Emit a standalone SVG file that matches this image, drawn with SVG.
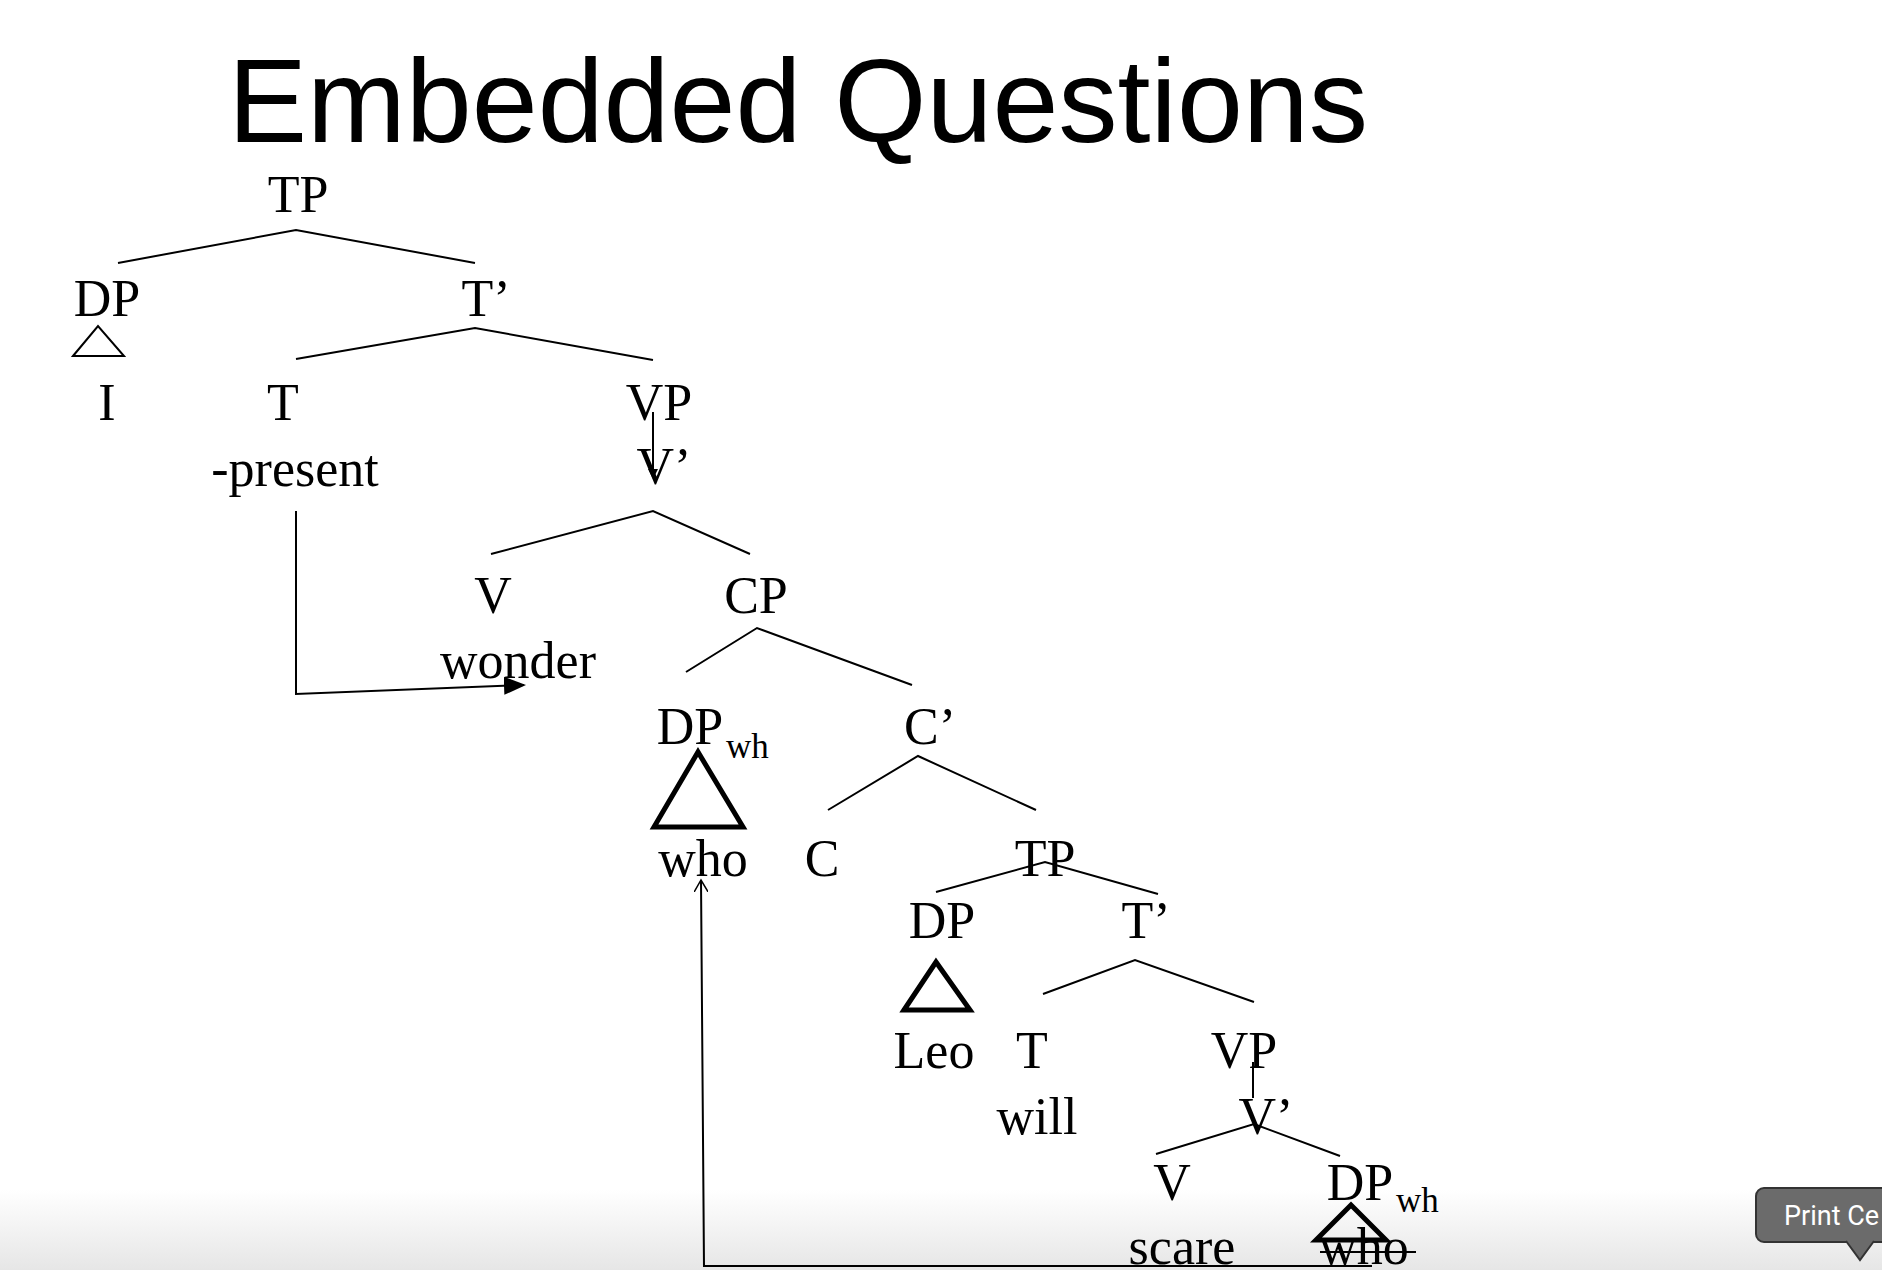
<svg xmlns="http://www.w3.org/2000/svg" width="1882" height="1270" viewBox="0 0 1882 1270">
<style>
.t{font-family:"Liberation Serif","Times New Roman",serif;font-size:52px;fill:#000;text-anchor:middle}
.s{font-family:"Liberation Serif","Times New Roman",serif;font-size:35px;fill:#000}
.l{stroke:#000;stroke-width:2;fill:none}
.k{stroke:#000;stroke-width:5;fill:none;stroke-linejoin:miter}
</style>
<defs>
<marker id="ah" markerWidth="10" markerHeight="10" refX="9" refY="5" orient="auto" markerUnits="userSpaceOnUse"><path d="M0,0 L10,5 L0,10 z" fill="#000"/></marker>
<marker id="oa" markerWidth="14" markerHeight="14" refX="12" refY="7" orient="auto" markerUnits="userSpaceOnUse"><path d="M0,0 L12,7 L0,14" fill="none" stroke="#000" stroke-width="1.5"/></marker>
<marker id="ha" markerWidth="22" markerHeight="18" refX="20" refY="9" orient="auto" markerUnits="userSpaceOnUse"><path d="M0,0 L22,9 L0,18 z" fill="#000"/></marker>
<linearGradient id="bg" x1="0" y1="0" x2="0" y2="1"><stop offset="0" stop-color="#fff"/><stop offset="1" stop-color="#e6e6e6"/></linearGradient>
</defs>
<rect width="1882" height="1270" fill="#fff"/>
<rect y="1190" width="1882" height="80" fill="url(#bg)"/>
<text x="228" y="142" font-family="Liberation Sans, Arial, sans-serif" font-size="118" textLength="1140" lengthAdjust="spacingAndGlyphs">Embedded Questions</text>

<g id="connectors">
<polyline class="l" points="118,263 296,230 475,263"/>
<polyline class="l" points="296,359 475,328 653,360"/>
<line class="l" x1="653" y1="412" x2="653" y2="478" marker-end="url(#ah)" stroke-width="1.5"/>
<polyline class="l" points="491,554 653,511 750,554"/>
<polyline class="l" points="686,672 757,628 912,685"/>
<polyline class="l" points="828,810 918,756 1036,810"/>
<polyline class="l" points="936,892 1045,862 1158,894"/>
<polyline class="l" points="1043,994 1135,960 1254,1002"/>
<line class="l" x1="1253" y1="1062" x2="1253" y2="1098" stroke-width="1.5"/>
<polyline class="l" points="1156,1154 1254,1124 1340,1156"/>
<polyline class="l" points="296,511 296,694 524,685" marker-end="url(#ha)"/>
<polyline class="l" points="1372,1266 704,1266 701,880" marker-end="url(#oa)"/>
<line class="l" x1="1320" y1="1252" x2="1416" y2="1252"/>
</g>

<g id="n-tp"><text class="t" x="298" y="212">TP</text></g>
<g id="n-dp"><text class="t" x="107" y="316">DP</text><polygon points="73,356 98,326 124,356" class="l"/><text class="t" x="107" y="420">I</text></g>
<g id="n-tbar"><text class="t" x="486" y="316">T’</text></g>
<g id="n-t"><text class="t" x="283" y="420">T</text><text class="t" x="295" y="486">-present</text></g>
<g id="n-vp"><text class="t" x="659" y="420">VP</text></g>
<g id="n-vbar"><text class="t" x="664" y="484">V’</text></g>
<g id="n-v"><text class="t" x="493" y="613">V</text><text class="t" x="518" y="678">wonder</text></g>
<g id="n-cp"><text class="t" x="756" y="613">CP</text></g>
<g id="n-dpwh"><text class="t" x="690" y="744">DP</text><text class="s" x="726" y="758">wh</text><polygon points="654,827 698,752 743,827" class="k"/><text class="t" x="703" y="876">who</text></g>
<g id="n-cbar"><text class="t" x="930" y="744">C’</text></g>
<g id="n-c"><text class="t" x="822" y="876">C</text></g>
<g id="n-tp2"><text class="t" x="1045" y="876">TP</text></g>
<g id="n-dp2"><text class="t" x="942" y="938">DP</text><polygon points="904,1010 936,962 970,1010" class="k"/><text class="t" x="934" y="1068">Leo</text></g>
<g id="n-tbar2"><text class="t" x="1146" y="938">T’</text></g>
<g id="n-t2"><text class="t" x="1032" y="1068">T</text><text class="t" x="1037" y="1134">will</text></g>
<g id="n-vp2"><text class="t" x="1244" y="1068">VP</text></g>
<g id="n-vbar2"><text class="t" x="1266" y="1134">V’</text></g>
<g id="n-v2"><text class="t" x="1172" y="1200">V</text><text class="t" x="1182" y="1264">scare</text></g>
<g id="n-dpwh2"><text class="t" x="1360" y="1200">DP</text><text class="s" x="1396" y="1212">wh</text><polygon points="1316,1240 1351,1205 1386,1240" class="k"/><text class="t" x="1364" y="1264">who</text></g>

<g id="tooltip">
<rect x="1756" y="1188" width="140" height="54" rx="8" fill="#6b6b6b" stroke="#333" stroke-width="2"/>
<path d="M1846,1241 L1860,1260 L1874,1241" fill="#6b6b6b" stroke="#333" stroke-width="2"/>
<text x="1784" y="1225" font-family="Roboto, Liberation Sans, sans-serif" font-size="27" fill="#fff">Print Ce</text>
</g>
</svg>
